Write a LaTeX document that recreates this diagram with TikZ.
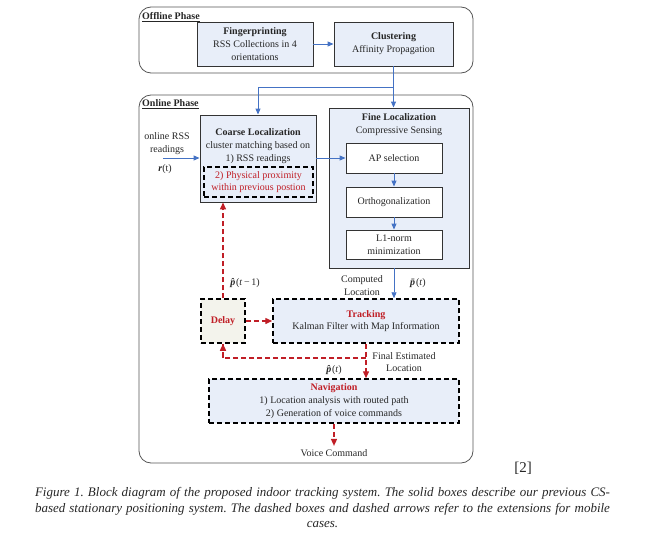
\documentclass[tikz,border=0pt]{standalone}
\usepackage{fontspec}
\setmainfont{Liberation Serif}
\usetikzlibrary{arrows.meta}
\definecolor{boxblue}{RGB}{232,238,249}
\definecolor{delayfill}{RGB}{243,243,236}
\definecolor{lineblue}{RGB}{68,114,196}
\definecolor{darkred}{RGB}{192,30,38}
\definecolor{phasegray}{RGB}{85,85,85}
\begin{document}
\begin{tikzpicture}[x=1pt,y=-1pt,font=\fontsize{10}{12.8}\selectfont,text=black!85,
  phase/.style={draw=phasegray,line width=0.8pt,rounded corners=12pt,minimum width=334pt,inner sep=0pt},
  phasetitle/.style={anchor=west,inner sep=0pt,font=\bfseries\fontsize{10}{12}\selectfont},
  cbox/.style={draw=black!80,line width=0.9pt,fill=boxblue,align=center,inner sep=0pt},
  wbox/.style={cbox,fill=white,minimum width=96pt},
  dbox/.style={draw=black,line width=1.5pt,dash pattern=on 5pt off 3pt,fill=boxblue,align=center,inner sep=0pt},
  bluearrow/.style={draw=lineblue,line width=0.9pt,-{Triangle[length=6pt,width=5pt]}},
  redarrow/.style={draw=darkred,line width=1.4pt,dash pattern=on 5pt off 3pt,-{Triangle[length=7pt,width=6pt]}},
  redline/.style={draw=darkred,line width=1.4pt,dash pattern=on 5pt off 3pt}]
\useasboundingbox (0,0) rectangle (652,551);

\node[phase,minimum height=66pt] (offline) at (306,40) {};
\node[phasetitle] (offtitle) at (142,17) {\underline{Offline Phase}};
\node[cbox,minimum width=116pt,minimum height=44pt] (finger) at (255,44) {\textbf{Fingerprinting}\\RSS Collections in 4\\orientations};
\node[cbox,minimum width=119pt,minimum height=44pt] (cluster) at (393.5,44) {\textbf{Clustering}\\Affinity Propagation};

\node[phase,minimum height=368pt] (online) at (306,279) {};
\node[phasetitle] (ontitle) at (142,104) {\underline{Online Phase}};

\node[cbox,minimum width=116pt,minimum height=87pt] (coarse) at (258,158.5) {};
\node[align=center] (coarsetxt) at (258,146) {\textbf{Coarse Localization}\\cluster matching based on\\1) RSS readings};
\node[dbox,minimum width=109pt,minimum height=30pt,text=darkred] (proximity) at (258.5,182) {2) Physical proximity\\within previous postion};
\node[align=center] (rsstxt) at (167,143.5) {online RSS\\readings};
\node (rvec) at (165,169) {\textbf{\textit{r}}(t)};
\coordinate (rssin) at (163,158);

\node[cbox,minimum width=140pt,minimum height=160pt] (fine) at (399,188) {};
\node[align=center] (finetxt) at (399,124.5) {\textbf{Fine Localization}\\Compressive Sensing};
\node[wbox,minimum height=30pt] (apsel) at (394,158) {AP selection};
\node[wbox,minimum height=30pt] (ortho) at (394,202) {Orthogonalization};
\node[wbox,minimum height=29pt] (lnorm) at (394,244.5) {L1-norm\\minimization};

\node[dbox,fill=delayfill,minimum width=44pt,minimum height=44pt,text=darkred,font=\bfseries] (delay) at (223,321) {Delay};
\node[dbox,minimum width=186pt,minimum height=44pt] (track) at (366,321) {\textcolor{darkred}{\textbf{Tracking}}\\Kalman Filter with Map Information};
\node[dbox,minimum width=250pt,minimum height=44pt] (nav) at (334,401) {\textcolor{darkred}{\textbf{Navigation}}\\1) Location analysis with routed path\\2) Generation of voice commands};
\node (voice) at (334,453) {Voice Command};

\node (pprev) at (245,283) {\textbf{\textit{p̂}}\kern-1.5pt(\textit{t}\,−\,1)};
\node[align=center] (computed) at (362,285.5) {Computed\\Location};
\node (pbar) at (418,283) {\textbf{\textit{p̄}}\kern-1.5pt(\textit{t})};
\node[align=center] (final) at (404,362) {Final Estimated\\Location};
\node (pest) at (334,370) {\textbf{\textit{p̂}}\kern-1.5pt(\textit{t})};

\coordinate (split) at (393,87);
\coordinate (fork) at (366,358);
\draw[bluearrow] (finger.east) -- (cluster.west);
\draw[bluearrow] (cluster.south) -- (cluster.south |- fine.north);
\draw[bluearrow] (split) -| (coarse.north);
\draw[bluearrow] (rssin) -- (rssin -| coarse.west);
\draw[bluearrow] (coarse.east |- apsel) -- (apsel.west);
\draw[bluearrow] (apsel) -- (ortho);
\draw[bluearrow] (ortho) -- (lnorm);
\draw[bluearrow] (lnorm.south |- fine.south) -- (lnorm.south |- track.north);

\draw[redarrow] (delay.north) -- (delay.north |- coarse.south);
\draw[redarrow] (delay.east) -- (track.west);
\draw[redarrow] (track.south) -- (track.south |- nav.north);
\draw[redline] (fork) -| (delay.south);
\draw[redarrow] (fork -| delay.south) -- (delay.south);
\draw[redarrow] (nav.south) -- (voice.north);

\node[font=\fontsize{15}{18}\selectfont] (ref) at (523,468) {[2]};
\node[text width=575pt,align=justify,font=\itshape\fontsize{13}{15.5}\selectfont,inner sep=0pt] (caption) at (322.5,508) {\frenchspacing Figure 1. Block diagram of the proposed indoor tracking system. The solid boxes describe our previous CS-\linebreak based stationary positioning system. The dashed boxes and dashed arrows refer to the extensions for mobile\parfillskip=0pt\par{\centering cases.\par}};
\end{tikzpicture}
\end{document}
